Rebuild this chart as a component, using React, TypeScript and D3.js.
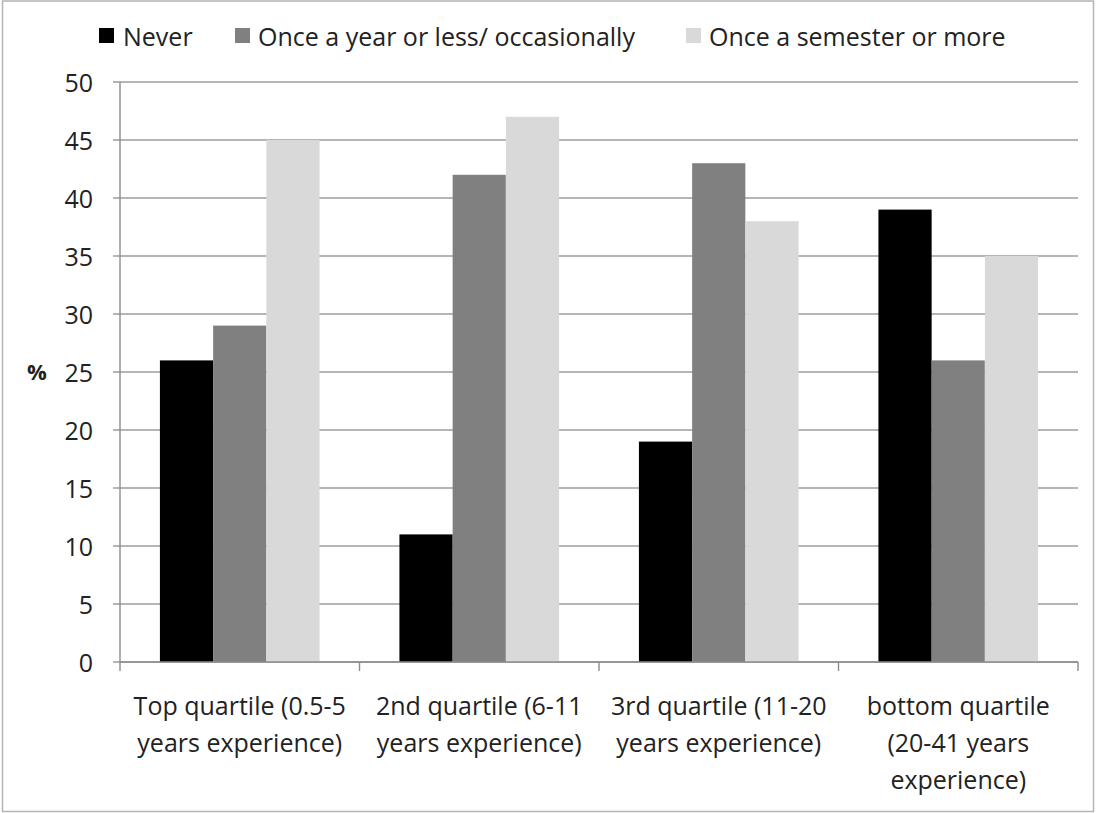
import React from "react";
import * as d3 from "d3";

const categories = ["top", "second", "third", "bottom"];
const categoryLines = [
  ["Top quartile (0.5-5", "years experience)"],
  ["2nd quartile (6-11", "years experience)"],
  ["3rd quartile (11-20", "years experience)"],
  ["bottom quartile", "(20-41 years", "experience)"],
];
const seriesNames = ["Never", "Once a year or less/ occasionally", "Once a semester or more"];
const seriesColors = ["#000000", "#808080", "#d9d9d9"];
const neverValues = [26, 11, 19, 39];
const yearlyValues = [29, 42, 43, 26];
const semesterValues = [45, 47, 38, 35];
const yTicks = [0, 5, 10, 15, 20, 25, 30, 35, 40, 45, 50];

const W = 1096;
const H = 813;
const left = 120;
const right = 1078;
const top = 82;
const bottom = 662;
const FONT = "'Open Sans', sans-serif";
const TEXT = "#222";
const FS = 25;

export default function App() {
  const series = [neverValues, yearlyValues, semesterValues];
  const x = d3.scaleBand<string>().domain(categories).range([left, right]).paddingInner(0).paddingOuter(0);
  const inner = d3
    .scaleBand<number>()
    .domain([0, 1, 2])
    .range([x.bandwidth() / 6, (x.bandwidth() * 5) / 6])
    .padding(0);
  const y = d3.scaleLinear().domain([0, 50]).range([bottom, top]);

  const legendItems = [
    { sx: 99, tx: 123 },
    { sx: 235, tx: 258 },
    { sx: 686, tx: 709 },
  ];

  return (
    <div style={{ position: "absolute", left: 0, top: 0 }}>
      <svg width={W} height={H} style={{ display: "block", background: "#fff" }}>
        <rect x={2.5} y={1} width={1091} height={810.5} fill="#fff" stroke="#b4b4b4" strokeWidth={1.5} />

        {/* horizontal gridlines */}
        {yTicks.map((t) => (
          <line key={"g" + t} x1={left - 7} x2={right} y1={y(t)} y2={y(t)} stroke="#9c9c9c" strokeWidth={1.4} />
        ))}

        {/* bars */}
        {categories.map((c, i) => (
          <g key={c}>
            {series.map((vals, s) => (
              <rect
                key={s}
                x={(x(c) as number) + (inner(s) as number)}
                y={y(vals[i])}
                width={inner.bandwidth()}
                height={bottom - y(vals[i])}
                fill={seriesColors[s]}
              />
            ))}
          </g>
        ))}

        {/* axes */}
        <line x1={left} x2={left} y1={top} y2={bottom + 9} stroke="#8c8c8c" strokeWidth={1.4} />
        <line x1={left} x2={right} y1={bottom} y2={bottom} stroke="#8c8c8c" strokeWidth={1.4} />
        {categories.map((c) => (
          <line
            key={"t" + c}
            x1={(x(c) as number) + x.bandwidth()}
            x2={(x(c) as number) + x.bandwidth()}
            y1={bottom}
            y2={bottom + 9}
            stroke="#8c8c8c"
            strokeWidth={1.4}
          />
        ))}

        {/* y tick labels */}
        {yTicks.map((t) => (
          <text
            key={"l" + t}
            x={93}
            y={y(t)}
            dy="0.38em"
            textAnchor="end"
            fontFamily={FONT}
            fontSize={FS}
            fill={TEXT}
          >
            {t}
          </text>
        ))}
        <text
          x={37}
          y={y(25)}
          dy="0.36em"
          textAnchor="middle"
          fontFamily={FONT}
          fontSize={22}
          fontWeight={700}
          fill={TEXT}
        >
          %
        </text>

        {/* category labels */}
        {categories.map((c, i) => (
          <text
            key={"c" + c}
            x={(x(c) as number) + x.bandwidth() / 2}
            textAnchor="middle"
            fontFamily={FONT}
            fontSize={FS}
            fill={TEXT}
          >
            {categoryLines[i].map((ln, k) => (
              <tspan key={k} x={(x(c) as number) + x.bandwidth() / 2} y={715 + k * 37}>
                {ln}
              </tspan>
            ))}
          </text>
        ))}

        {/* legend */}
        {seriesNames.map((n, s) => (
          <g key={"lg" + s}>
            <rect x={legendItems[s].sx} y={28} width={15} height={15} fill={seriesColors[s]} />
            <text x={legendItems[s].tx} y={37} dy="0.36em" fontFamily={FONT} fontSize={FS} fill={TEXT}>
              {n}
            </text>
          </g>
        ))}
      </svg>
    </div>
  );
}
